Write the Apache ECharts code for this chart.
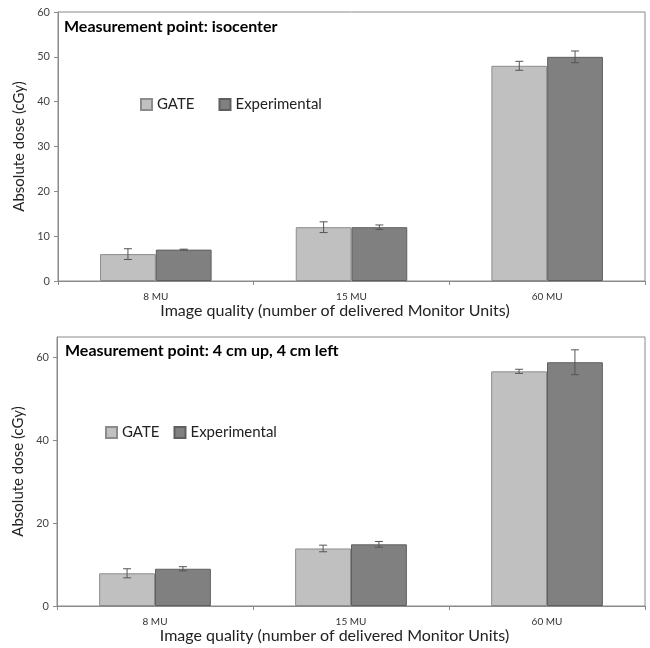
<!DOCTYPE html>
<html><head><meta charset="utf-8">
<script src="https://cdn.jsdelivr.net/npm/echarts@6/dist/echarts.min.js"></script>
<style>html,body{margin:0;padding:0;background:#fff}#c{width:650px;height:648px}</style>
</head><body><div id="c"></div>
<script>
const categories = ['8 MU', '15 MU', '60 MU'];
const seriesNames = ['GATE', 'Experimental'];
// Top chart: isocenter
const isoGate = [6.0, 12.0, 48.0];
const isoGateErr = [1.2, 1.2, 1.0];
const isoExp = [7.0, 12.0, 50.0];
const isoExpErr = [0.1, 0.5, 1.3];
// Bottom chart: 4 cm up, 4 cm left
const offGate = [7.9, 13.9, 56.7];
const offGateErr = [1.1, 0.8, 0.5];
const offExp = [9.0, 14.9, 58.9];
const offExpErr = [0.5, 0.7, 3.0];
const titles = ['Measurement point: isocenter', 'Measurement point: 4 cm up, 4 cm left'];
const yTitle = 'Absolute dose (cGy)';
const xTitle = 'Image quality (number of delivered Monitor Units)';

const FONT = 'Lato';
const gapPct = 0.43;
const chart = echarts.init(document.getElementById('c'));

function errSeries(values, errs, idx, side) {
  return {
    type: 'custom', xAxisIndex: idx, yAxisIndex: idx, z: 10, silent: true,
    data: values.map((v, i) => [i, v - errs[i], v + errs[i]]),
    renderItem: function (params, api) {
      const band = api.size([1, 0])[0];
      const off = side * band * (1 - gapPct) / 4;
      const lo = api.coord([api.value(0), api.value(1)]);
      const hi = api.coord([api.value(0), api.value(2)]);
      const x = lo[0] + off;
      const cap = 4;
      const st = { stroke: '#555', lineWidth: 1 };
      return { type: 'group', children: [
        { type: 'line', shape: { x1: x, y1: lo[1], x2: x, y2: hi[1] }, style: st },
        { type: 'line', shape: { x1: x - cap, y1: lo[1], x2: x + cap, y2: lo[1] }, style: st },
        { type: 'line', shape: { x1: x - cap, y1: hi[1], x2: x + cap, y2: hi[1] }, style: st }
      ]};
    }
  };
}
function barSeries(name, values, idx, color, border) {
  return {
    name: name, type: 'bar', xAxisIndex: idx, yAxisIndex: idx,
    data: values, barGap: '0%', barCategoryGap: (gapPct * 100) + '%',
    itemStyle: { color: color, borderColor: border, borderWidth: 1 },
    animation: false
  };
}
function xAx(idx) {
  return {
    type: 'category', gridIndex: idx, data: categories,
    axisLine: { lineStyle: { color: '#8a8a8a', width: 1 } },
    axisTick: { show: true, length: 4, lineStyle: { color: '#8a8a8a' } },
    axisLabel: { color: '#333', fontFamily: FONT, fontSize: 10, margin: 11 },
    name: xTitle, nameLocation: 'middle', nameGap: 22,
    nameTextStyle: { color: '#222', fontFamily: FONT, fontSize: 16, padding: [0, 33, 0, 0] }
  };
}
function yAx(idx, max, interval) {
  return {
    type: 'value', gridIndex: idx, min: 0, max: max, interval: interval,
    splitLine: { show: false },
    axisLine: { show: true, lineStyle: { color: '#8a8a8a', width: 1 } },
    axisTick: { show: true, length: 4, lineStyle: { color: '#8a8a8a' } },
    axisLabel: { color: '#444', fontFamily: FONT, fontSize: 11, margin: 8, showMaxLabel: max % interval === 0 },
    name: yTitle, nameLocation: 'middle', nameGap: 26,
    nameTextStyle: { color: '#222', fontFamily: FONT, fontSize: 15 }
  };
}
const legendStyle = { color: '#222', fontFamily: FONT, fontSize: 15 };
const titleStyle = { fontFamily: FONT, fontSize: 16, fontWeight: 'bold', color: '#000' };
chart.setOption({
  animation: false,
  textStyle: { fontFamily: FONT },
  title: [
    { text: titles[0], left: 64, top: 19, padding: 0, textStyle: titleStyle },
    { text: titles[1], left: 65, top: 343, padding: 0, textStyle: titleStyle }
  ],
  legend: [
    { data: seriesNames, left: 140, top: 97, padding: 0, itemWidth: 11, itemHeight: 11, itemGap: 24, textStyle: legendStyle, icon: 'rect' },
    { data: seriesNames, left: 105, top: 425, padding: 0, itemWidth: 11, itemHeight: 11, itemGap: 14, textStyle: legendStyle, icon: 'rect' }
  ],
  grid: [
    { left: 58, top: 12, right: 5, height: 269, show: true, borderColor: '#8a8a8a', borderWidth: 1 },
    { left: 57, top: 337, right: 5, height: 269, show: true, borderColor: '#8a8a8a', borderWidth: 1 }
  ],
  xAxis: [xAx(0), xAx(1)],
  yAxis: [yAx(0, 60, 10), yAx(1, 65, 20)],
  series: [
    barSeries(seriesNames[0], isoGate, 0, '#c0c0c0', '#8c8c8c'),
    barSeries(seriesNames[1], isoExp, 0, '#808080', '#5f5f5f'),
    errSeries(isoGate, isoGateErr, 0, -1),
    errSeries(isoExp, isoExpErr, 0, 1),
    barSeries(seriesNames[0], offGate, 1, '#c0c0c0', '#8c8c8c'),
    barSeries(seriesNames[1], offExp, 1, '#808080', '#5f5f5f'),
    errSeries(offGate, offGateErr, 1, -1),
    errSeries(offExp, offExpErr, 1, 1)
  ]
});
</script></body></html>
